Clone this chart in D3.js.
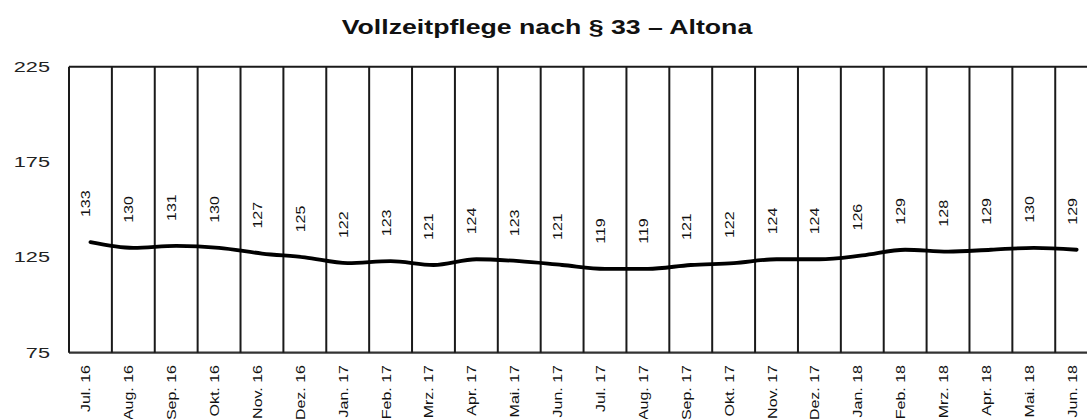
<!DOCTYPE html>
<html>
<head>
<meta charset="utf-8">
<script src="https://cdn.jsdelivr.net/npm/d3@7"></script>
<style>
  body { margin: 0; background: #fff; }
  text { font-family: "Liberation Sans", Arial, sans-serif; fill: #111; }
</style>
</head>
<body>
<div id="chart"></div>
<script>
// data
const months = ["Jul. 16", "Aug. 16", "Sep. 16", "Okt. 16", "Nov. 16", "Dez. 16",
    "Jan. 17", "Feb. 17", "Mrz. 17", "Apr. 17", "Mai. 17", "Jun. 17",
    "Jul. 17", "Aug. 17", "Sep. 17", "Okt. 17", "Nov. 17", "Dez. 17",
    "Jan. 18", "Feb. 18", "Mrz. 18", "Apr. 18", "Mai. 18", "Jun. 18"];
const cases = [133, 130, 131, 130, 127, 125, 122, 123, 121, 124, 123, 121,
    119, 119, 121, 122, 124, 124, 126, 129, 128, 129, 130, 129];
const yTicks = [75, 125, 175, 225];
const title = "Vollzeitpflege nach § 33 – Altona";

const W = 1087, H = 419;
const plotLeft = 69, plotTop = 66.7, plotBottom = 352.7;
const band = 42.88;

const svg = d3.select("#chart").append("svg")
    .attr("width", W)
    .attr("height", H);

const x = d3.scaleBand()
    .domain(months)
    .range([plotLeft, plotLeft + band * months.length])
    .padding(0);

const y = d3.scaleLinear()
    .domain([75, 225])
    .range([plotBottom, plotTop]);

// title (the source image is stretched sideways, hence the scale)
svg.append("text")
    .attr("transform", "translate(547,34) scale(1.27,1)")
    .attr("text-anchor", "middle")
    .style("font-size", "21px")
    .style("font-weight", "bold")
    .text(title);

// frame: top + bottom lines
svg.append("line")
    .attr("x1", plotLeft).attr("x2", x.range()[1])
    .attr("y1", plotTop).attr("y2", plotTop)
    .attr("stroke", "#1a1a1a").attr("stroke-width", 2);
svg.append("line")
    .attr("x1", plotLeft).attr("x2", x.range()[1])
    .attr("y1", plotBottom).attr("y2", plotBottom)
    .attr("stroke", "#333").attr("stroke-width", 2.2);

// vertical separators at each band start
svg.selectAll(".sep")
    .data(months)
    .enter()
    .append("line")
    .attr("class", "sep")
    .attr("x1", d => x(d)).attr("x2", d => x(d))
    .attr("y1", plotTop).attr("y2", plotBottom)
    .attr("stroke", "#1a1a1a")
    .attr("stroke-width", 2);

// y tick labels (no tick marks in the original)
svg.selectAll(".ylab")
    .data(yTicks)
    .enter()
    .append("text")
    .attr("class", "ylab")
    .attr("transform", d => "translate(50," + y(d) + ") scale(1.55,1)")
    .attr("text-anchor", "end")
    .attr("dy", "0.36em")
    .style("font-size", "14px")
    .style("fill", "#222")
    .text(d => d);

// x labels, rotated and squashed like the original
svg.selectAll(".xlab")
    .data(months)
    .enter()
    .append("text")
    .attr("class", "xlab")
    .attr("transform", d => "translate(" + (x(d) + x.bandwidth() / 2) + ",365) rotate(-90) scale(1,0.75)")
    .attr("text-anchor", "end")
    .style("font-size", "16px")
    .text(d => d);

// the line
const line = d3.line()
    .x((d, i) => x(months[i]) + x.bandwidth() / 2)
    .y(d => y(d))
    .curve(d3.curveMonotoneX);

svg.append("path")
    .datum(cases)
    .attr("d", line)
    .attr("fill", "none")
    .attr("stroke", "#000")
    .attr("stroke-width", 3.8)
    .attr("stroke-linecap", "round");

// value labels above the line
svg.selectAll(".vlab")
    .data(cases)
    .enter()
    .append("text")
    .attr("class", "vlab")
    .attr("transform", (d, i) => "translate(" + (x(months[i]) + x.bandwidth() / 2) + "," + (y(d) - 25) + ") rotate(-90) scale(1,0.75)")
    .attr("text-anchor", "start")
    .style("font-size", "16px")
    .text(d => d);
</script>
</body>
</html>
